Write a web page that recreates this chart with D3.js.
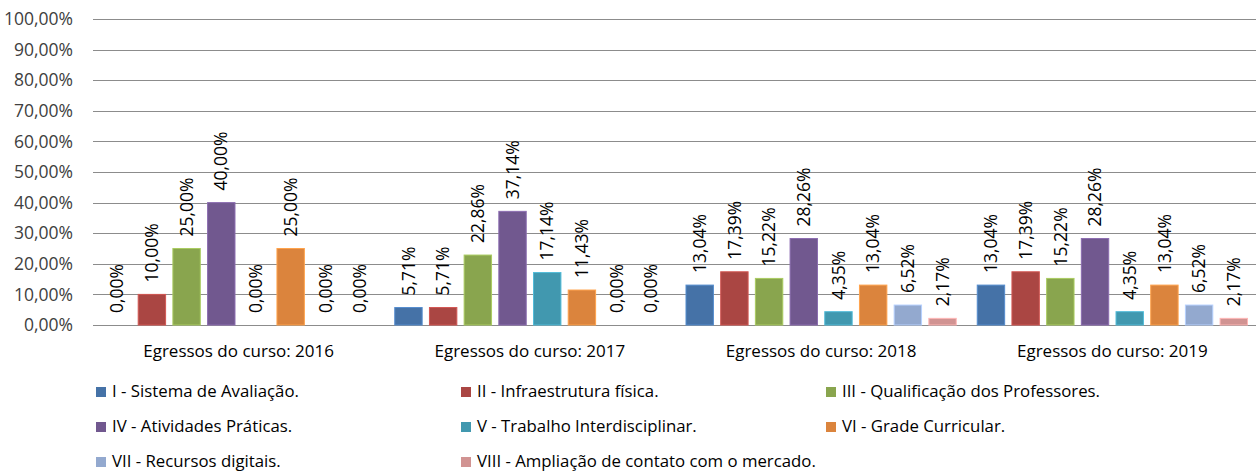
<!DOCTYPE html>
<html><head><meta charset="utf-8">
<script src="https://cdn.jsdelivr.net/npm/d3@7"></script>
<style>body{margin:0;background:#fff}svg{display:block}text{font-family:"Open Sans",sans-serif}</style>
</head><body>
<svg id="c" width="1256" height="472"></svg>
<script>
const categories = ["Egressos do curso: 2016","Egressos do curso: 2017","Egressos do curso: 2018","Egressos do curso: 2019"];
const seriesNames = ["I - Sistema de Avaliação.","II - Infraestrutura física.","III - Qualificação dos Professores.","IV - Atividades Práticas.","V - Trabalho Interdisciplinar.","VI - Grade Curricular.","VII - Recursos digitais.","VIII - Ampliação de contato com o mercado."];
const sI    = [0, 5.71, 13.04, 13.04];
const sII   = [10, 5.71, 17.39, 17.39];
const sIII  = [25, 22.86, 15.22, 15.22];
const sIV   = [40, 37.14, 28.26, 28.26];
const sV    = [0, 17.14, 4.35, 4.35];
const sVI   = [25, 11.43, 13.04, 13.04];
const sVII  = [0, 0, 6.52, 6.52];
const sVIII = [0, 0, 2.17, 2.17];
const yTicks = [0,10,20,30,40,50,60,70,80,90,100];
const colors = ["#4572A7","#AA4643","#89A54E","#71588F","#4198AF","#DB843D","#93A9CF","#D19392"];

const series = [sI,sII,sIII,sIV,sV,sVI,sVII,sVIII];
const svg = d3.select("#c");
const mLeft = 93, mRight = 1258, mTop = 19, mBottom = 325;
const fmt = v => v.toFixed(2).replace(".", ",") + "%";

const y = d3.scaleLinear().domain([0,100]).range([mBottom, mTop]);
const x0 = d3.scaleBand().domain(categories).range([mLeft, mRight]);
const bw = x0.bandwidth();
const x1 = d3.scaleBand().domain(d3.range(8)).range([10.5, bw - 10.5]).paddingInner(0.21);

// grid
svg.append("g").selectAll("line").data(yTicks).join("line")
  .attr("x1", mLeft).attr("x2", 1256).attr("y1", d => Math.round(y(d)) + 0.5).attr("y2", d => Math.round(y(d)) + 0.5)
  .attr("stroke", "#8c8c8c").attr("stroke-width", 1.2);
const yAxis = d3.axisLeft(y).tickValues(yTicks).tickSize(0).tickPadding(20).tickFormat(d => d.toFixed(2).replace(".", ",") + "%");
const ga = svg.append("g").attr("transform", `translate(${mLeft},0)`).call(yAxis);
ga.select(".domain").remove();
ga.selectAll("text").attr("font-size", "17.5px").attr("fill", "#404040").attr("font-family", "Open Sans");

// bars
const groups = svg.append("g").selectAll("g").data(categories).join("g")
  .attr("transform", d => `translate(${x0(d)},0)`);
groups.each(function(cat, ci) {
  const g = d3.select(this);
  series.forEach((s, si) => {
    const v = s[ci];
    if (v > 0) {
      g.append("rect").attr("x", x1(si)).attr("width", x1.bandwidth())
        .attr("y", y(v)).attr("height", y(0) - y(v))
        .attr("fill", colors[si]).attr("stroke", d3.color(colors[si]).brighter(0.6)).attr("stroke-width", 1);
    }
    const cx = x1(si) + x1.bandwidth() / 2 + 1.5;
    const by = y(v) - 12;
    g.append("text").attr("transform", `translate(${cx},${by}) rotate(-90)`)
      .attr("dominant-baseline", "middle").attr("text-anchor", "start")
      .attr("font-size", "17.5px").attr("fill", "#000").text(fmt(v));
  });
});

// category labels
svg.append("g").selectAll("text").data(categories).join("text")
  .attr("x", d => x0(d) + bw / 2).attr("y", 357).attr("text-anchor", "middle")
  .attr("font-size", "17px").attr("fill", "#000").text(d => d);

// legend
const colX = [96, 461, 826];
const rowY = [392, 427, 462];
const lg = svg.append("g");
seriesNames.forEach((n, i) => {
  const cx = colX[i % 3], cy = rowY[Math.floor(i / 3)];
  lg.append("rect").attr("x", cx).attr("y", cy - 5).attr("width", 10).attr("height", 10).attr("fill", colors[i]);
  lg.append("text").attr("x", cx + 16).attr("y", cy).attr("dominant-baseline", "middle")
    .attr("font-size", "16.8px").attr("fill", "#000").text(n);
});
</script>
</body></html>
